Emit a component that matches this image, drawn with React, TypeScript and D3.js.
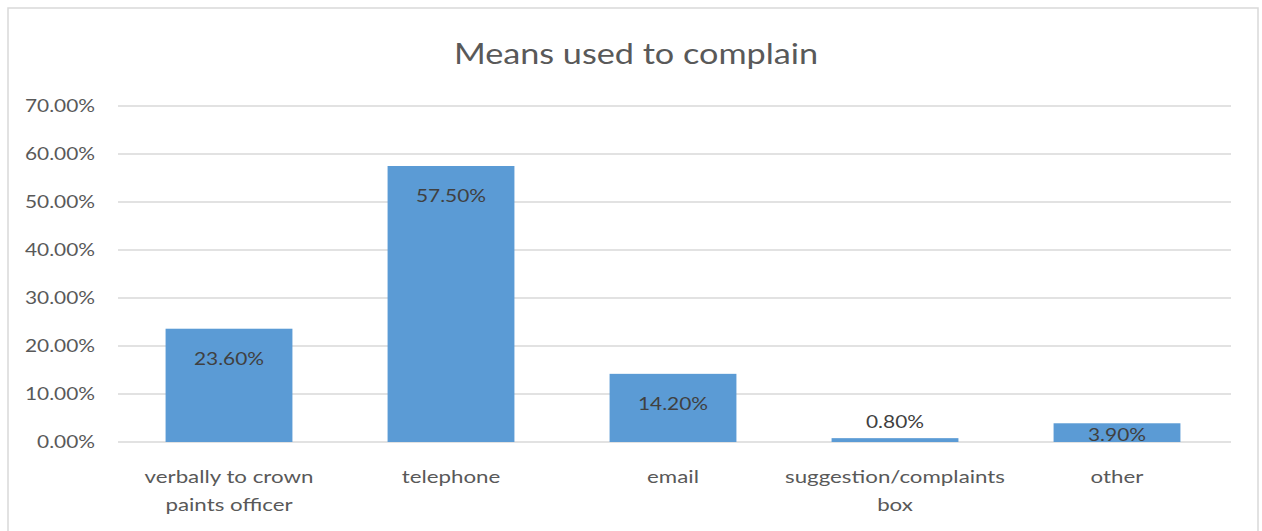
import React from "react";
import * as d3 from "d3";

const categories: string[][] = [
  ["verbally to crown", "paints officer"],
  ["telephone"],
  ["email"],
  ["suggestion/complaints", "box"],
  ["other"],
];
const values: number[] = [0.236, 0.575, 0.142, 0.008, 0.039];
const valueLabels: string[] = ["23.60%", "57.50%", "14.20%", "0.80%", "3.90%"];
const yTicks: number[] = [0, 0.1, 0.2, 0.3, 0.4, 0.5, 0.6, 0.7];
const title = "Means used to complain";

const W = 1262;
const H = 531;
const FONT = "Lato, 'Open Sans', sans-serif";

export default function App() {
  const left = 118, right = 1228, top = 106, bottom = 442;
  const x = d3.scaleBand<number>().domain(d3.range(values.length)).range([left, right]).paddingInner(0.4286).paddingOuter(0.2143);
  const y = d3.scaleLinear().domain([0, 0.7]).range([bottom, top]);
  const fmt = d3.format(".2%");

  const T = (tx: number, ty: number, sx: number) => `translate(${tx},${ty}) scale(${sx},1)`;

  return (
    <svg width={W} height={H} style={{ position: "absolute", left: 0, top: 0 }} fontFamily={FONT}>
      <rect x={0} y={0} width={W} height={H} fill="#fff" />
      <rect x={8} y={8} width={1250} height={H + 10} fill="#fff" stroke="#d9d9d9" strokeWidth={1.5} />
      <text transform={T(636, 64, 1.18)} textAnchor="middle" fontSize={29} fill="#595959">{title}</text>
      {yTicks.map((t) => (
        <g key={t}>
          <line x1={left} x2={right + 3} y1={y(t)} y2={y(t)} stroke="#d9d9d9" strokeWidth={1.5} />
          <text transform={T(95, y(t) + 6, 1.16)} textAnchor="end" fontSize={18} fill="#595959">{fmt(t)}</text>
        </g>
      ))}
      {values.map((v, i) => {
        const bx = x(i)!;
        const bw = x.bandwidth();
        const by = y(v);
        const bh = bottom - by;
        const cx = bx + bw / 2;
        const ly = bh < 10 ? by - 10 : Math.min(by + 36, bottom - 1);
        return (
          <g key={i}>
            <rect x={bx} y={by} width={bw} height={bh} fill="#5b9bd5" />
            <text transform={T(cx, ly, 1.16)} textAnchor="middle" fontSize={18} fill="#404040">{valueLabels[i]}</text>
            {categories[i].map((line, j) => (
              <text key={j} transform={T(cx, 483 + j * 28, 1.24)} textAnchor="middle" fontSize={18} fill="#595959">{line}</text>
            ))}
          </g>
        );
      })}
    </svg>
  );
}
